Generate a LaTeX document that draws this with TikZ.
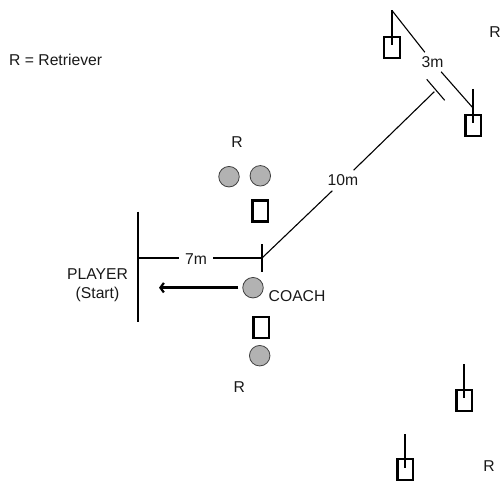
\documentclass[tikz,border=0pt]{standalone}
\usepackage{fontspec}
\usetikzlibrary{arrows.meta}
\setmainfont{Liberation Sans}
\tikzset{
  lab/.style={font=\fontsize{15.7pt}{19pt}\selectfont, inner sep=0pt, text=black!90, align=center},
  gaplab/.style={lab, inner sep=4.5pt},
  ball/.style={circle, draw=black!75, line width=0.8pt, fill=black!30, minimum size=20.5pt, inner sep=0pt},
  cone/.style={rectangle, draw=black, line width=2.3pt, fill=white, minimum width=15.5pt, minimum height=21pt, inner sep=0pt},
  post/.style={draw=black, line width=2.2pt},
  thin line/.style={draw=black, line width=1.1pt},
}
\begin{document}
\begin{tikzpicture}[x=1pt,y=-1pt]
\useasboundingbox (0,0) rectangle (502,481);
% labels
\node[lab, anchor=west] (key) at (9,59.5) {R = Retriever};
\node[lab] (rtop) at (237,142) {R};
\node[lab, anchor=east] (rright) at (501,31.7) {R};
\node[lab] (rbottom) at (239.3,386.7) {R};
\node[lab] (rlow) at (489,465.7) {R};
\node[lab, anchor=west] (coachlab) at (268.5,296) {COACH};
\node[lab] (player) at (97.5,285) {PLAYER\\(Start)};
\node[gaplab, inner sep=6pt] (l7) at (196,259) {7m};
\node[gaplab] (l10) at (343,180.5) {10m};
\node[gaplab, inner sep=4pt] (l3) at (432.5,62) {3m};
% circles
\node[ball] (b1) at (229,176.7) {};
\node[ball] (b2) at (260.3,175.8) {};
\node[ball] (coach) at (253,287.7) {};
\node[ball] (b3) at (259.7,355.7) {};
% cones
\node[cone] (c1) at (392,47.3) {};
\node[cone] (c2) at (473.2,125.5) {};
\node[cone] (c3) at (260.3,211) {};
\node[cone] (c4) at (261.3,327.3) {};
\node[cone] (c5) at (464.2,400.2) {};
\node[cone] (c6) at (405.3,469.7) {};
% posts
\coordinate (p1a) at (392,10.5); \coordinate (p1b) at (392,45);
\coordinate (p2a) at (473,89); \coordinate (p2b) at (473,123);
\coordinate (p2c) at (473,108);
\coordinate (p5a) at (464,364); \coordinate (p5b) at (464,398);
\coordinate (p6a) at (405.3,434); \coordinate (p6b) at (405.3,468);
\draw[post] (p1a) -- (p1b);
\draw[post] (p2a) -- (p2b);
\draw[post] (p5a) -- (p5b);
\draw[post] (p6a) -- (p6b);
% start line
\coordinate (w1) at (138.3,211.5); \coordinate (w2) at (138.3,321.5);
\coordinate (w0) at (138.3,258);
\draw[post] (w1) -- (w2);
% ticks
\coordinate (t1) at (262,244); \coordinate (t2) at (262,272); \coordinate (t0) at (262,258);
\coordinate (u1) at (426.7,79.3); \coordinate (u2) at (444.7,100.3); \coordinate (u0) at (434.3,91.7);
\draw[thin line] (t1) -- (t2);
\draw[thin line] (u1) -- (u2);
% dimension lines
\draw[thin line] (w0) -- (l7.west |- w0);
\draw[thin line] (l7.east |- w0) -- (t0);
\draw[thin line] (t0) -- (l10);
\draw[thin line] (l10) -- (u0);
\draw[thin line] (p1a) -- (l3);
\draw[thin line] (l3) -- (p2c);
% arrow
\coordinate (arrowstart) at (238.3,287.7);
\coordinate (arrowend) at (159,287.7);
\draw[post, line width=2.6pt, -{Straight Barb[length=3.5pt,width=9.5pt,line width=2.2pt]}] (arrowstart) -- (arrowend);
\end{tikzpicture}
\end{document}
